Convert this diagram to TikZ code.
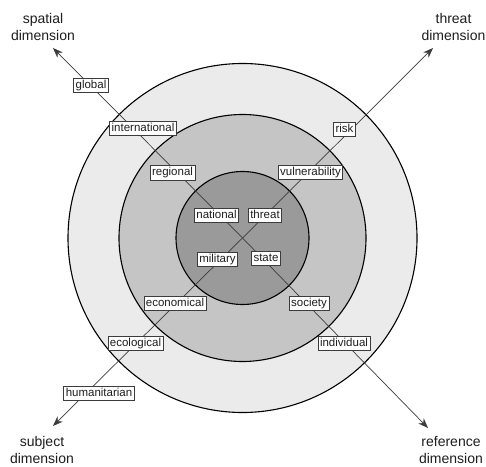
\documentclass[tikz,border=0pt]{standalone}
\usepackage{fontspec}
\setmainfont{Liberation Sans}
\usetikzlibrary{arrows.meta}
\definecolor{ringA}{RGB}{235,235,235}
\definecolor{ringB}{RGB}{197,197,197}
\definecolor{ringC}{RGB}{154,154,154}
\definecolor{axisgray}{RGB}{60,60,60}
\definecolor{txt}{RGB}{30,30,30}
\tikzset{
  ring/.style={draw=black, line width=1.1pt},
  axis/.style={draw=axisgray, line width=0.7pt, -{Stealth[length=10pt,width=7.5pt]}},
  lbl/.style={draw=axisgray, fill=white, line width=0.8pt, text=txt,
    font=\fontsize{11.5}{13}\selectfont, inner xsep=2pt, inner ysep=1.5pt,
    text height=8.6pt, text depth=2.6pt},
  ttl/.style={align=center, text=txt, font=\fontsize{14}{17}\selectfont}
}
\begin{document}
\begin{tikzpicture}[x=1pt,y=1pt]
\useasboundingbox (0,0) rectangle (486,466);
\fill[white] (0,0) rectangle (486,466);
\coordinate (C) at (242.5,228);
\draw[ring, fill=ringA] (C) circle (174.5);
\draw[ring, fill=ringB] (C) circle (123.5);
\draw[ring, fill=ringC] (C) circle (66.5);
\coordinate (tS) at (53,418);
\coordinate (tT) at (433,418);
\coordinate (tU) at (53,40);
\coordinate (tR) at (428,38);
\draw[axis] (C) -- (tS);
\draw[axis] (C) -- (tT);
\draw[axis] (C) -- (tU);
\draw[axis] (C) -- (tR);
\node[lbl] (global) at (91,380.5) {global};
\node[lbl] (international) at (143,337.5) {international};
\node[lbl] (regional) at (172.5,293) {regional};
\node[lbl] (national) at (216.5,250.5) {national};
\node[lbl] (threat) at (265,250.5) {threat};
\node[lbl] (vulnerability) at (310.5,293.5) {vulnerability};
\node[lbl] (risk) at (344.5,336.5) {risk};
\node[lbl] (military) at (217.5,207) {military};
\node[lbl] (state) at (266,208) {state};
\node[lbl] (economical) at (175,162.5) {economical};
\node[lbl] (society) at (309,162.5) {society};
\node[lbl] (ecological) at (135.5,123) {ecological};
\node[lbl] (individual) at (344,122.5) {individual};
\node[lbl] (humanitarian) at (99,72.5) {humanitarian};
\node[ttl] (spatialT) at (43,439) {spatial\\dimension};
\node[ttl] (threatT) at (453.5,439) {threat\\dimension};
\node[ttl] (subjectT) at (42,16.5) {subject\\dimension};
\node[ttl] (referenceT) at (451,16.5) {reference\\dimension};
\end{tikzpicture}
\end{document}
